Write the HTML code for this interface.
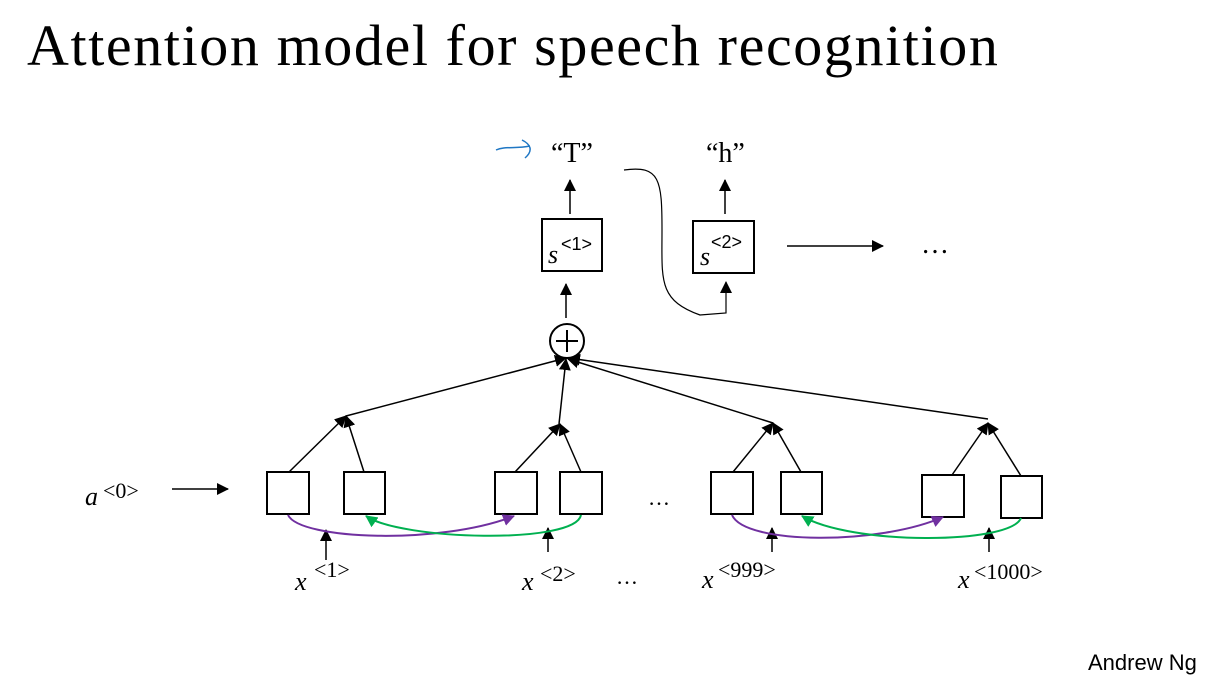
<!DOCTYPE html>
<html><head><style>
body{margin:0;background:#fff;width:1212px;height:682px;overflow:hidden;position:relative}
.t{position:absolute;left:27px;top:12px;font-family:"Liberation Serif",serif;font-size:58px;white-space:nowrap;letter-spacing:1.6px}
.a{position:absolute;left:1088px;top:650px;font-family:"Liberation Sans",sans-serif;font-size:22px}
</style></head><body>
<div class="t">Attention model for speech recognition</div>
<div class="a">Andrew Ng</div>
<svg width="1212" height="682" style="position:absolute;left:0;top:0" font-family="Liberation Serif,serif">
<defs>
<marker id="k" markerWidth="12" markerHeight="12" refX="11" refY="6" orient="auto" markerUnits="userSpaceOnUse"><path d="M0,0L12,6L0,12z" fill="#000"/></marker>
<marker id="p" markerWidth="12" markerHeight="12" refX="11" refY="6" orient="auto" markerUnits="userSpaceOnUse"><path d="M0,0L12,6L0,12z" fill="#7030a0"/></marker>
<marker id="g" markerWidth="12" markerHeight="12" refX="11" refY="6" orient="auto" markerUnits="userSpaceOnUse"><path d="M0,0L12,6L0,12z" fill="#00b050"/></marker>
</defs>
<g fill="none" stroke="#000" stroke-width="2">
<rect x="542" y="219" width="60" height="52"/>
<rect x="693" y="221" width="61" height="52"/>
<rect x="267" y="472" width="42" height="42"/>
<rect x="344" y="472" width="41" height="42"/>
<rect x="495" y="472" width="42" height="42"/>
<rect x="560" y="472" width="42" height="42"/>
<rect x="711" y="472" width="42" height="42"/>
<rect x="781" y="472" width="41" height="42"/>
<rect x="922" y="475" width="42" height="42"/>
<rect x="1001" y="476" width="41" height="42"/>
<circle cx="567" cy="341" r="17"/>
</g>
<g stroke="#000" stroke-width="1.5" fill="none" marker-end="url(#k)">
<line x1="570" y1="214" x2="570" y2="180"/>
<line x1="566" y1="318" x2="566" y2="284"/>
<line x1="725" y1="214" x2="725" y2="180"/>
<line x1="787" y1="246" x2="883" y2="246"/>
<line x1="172" y1="489" x2="228" y2="489"/>
<line x1="289" y1="472" x2="346" y2="416"/>
<line x1="364" y1="472" x2="346" y2="416"/>
<line x1="515" y1="472" x2="560" y2="424"/>
<line x1="581" y1="472" x2="560" y2="424"/>
<line x1="733" y1="472" x2="773" y2="423"/>
<line x1="801" y1="472" x2="773" y2="423"/>
<line x1="952" y1="475" x2="988" y2="423"/>
<line x1="1021" y1="476" x2="988" y2="423"/>
<line x1="346" y1="416" x2="566" y2="358"/>
<line x1="559" y1="424" x2="566" y2="359"/>
<line x1="773" y1="423" x2="568" y2="359"/>
<line x1="988" y1="419" x2="569" y2="358"/>
<line x1="326" y1="560" x2="326" y2="530"/>
<line x1="548" y1="552" x2="548" y2="528"/>
<line x1="772" y1="552" x2="772" y2="528"/>
<line x1="989" y1="552" x2="989" y2="528"/>
</g>
<path d="M624,170C660,165 662,180 662,230C662,280 658,300 700,315L726,313L726,282" fill="none" stroke="#000" stroke-width="1.2" marker-end="url(#k)"/>
<path d="M288,515C300,540 440,545 514,516" fill="none" stroke="#7030a0" stroke-width="2" marker-end="url(#p)"/>
<path d="M581,515C575,545 400,540 366,516" fill="none" stroke="#00b050" stroke-width="2" marker-end="url(#g)"/>
<path d="M732,515C745,545 880,545 943,517" fill="none" stroke="#7030a0" stroke-width="2" marker-end="url(#p)"/>
<path d="M1021,518C1010,545 850,545 802,516" fill="none" stroke="#00b050" stroke-width="2" marker-end="url(#g)"/>
<path d="M496,150C505,146 515,149 530,146M522,140C530,144 534,150 525,158" fill="none" stroke="#1f77c4" stroke-width="1.5"/>
<g stroke="#000" stroke-width="2"><line x1="556" y1="341" x2="578" y2="341"/><line x1="567" y1="330" x2="567" y2="352"/></g>
<g font-size="28" fill="#000">
<text x="551" y="162">“T”</text>
<text x="706" y="162">“h”</text>
<text x="921" y="253">…</text>
</g>
<g font-size="26" font-style="italic" fill="#000">
<text x="548" y="263">s</text><text x="700" y="265">s</text>
<text x="85" y="505">a</text>
<text x="295" y="590">x</text><text x="522" y="590">x</text><text x="702" y="588">x</text><text x="958" y="588">x</text>
</g>
<g font-size="18" fill="#000" font-family="Liberation Sans,sans-serif">
<text x="561" y="250">&lt;1&gt;</text><text x="711" y="248">&lt;2&gt;</text>
</g>
<g font-size="22" fill="#000">
<text x="103" y="498">&lt;0&gt;</text>
<text x="314" y="577">&lt;1&gt;</text>
<text x="540" y="581">&lt;2&gt;</text>
<text x="718" y="577">&lt;999&gt;</text>
<text x="974" y="579">&lt;1000&gt;</text>
<text x="648" y="505">…</text>
<text x="616" y="584">…</text>
</g>
</svg>
</body></html>
